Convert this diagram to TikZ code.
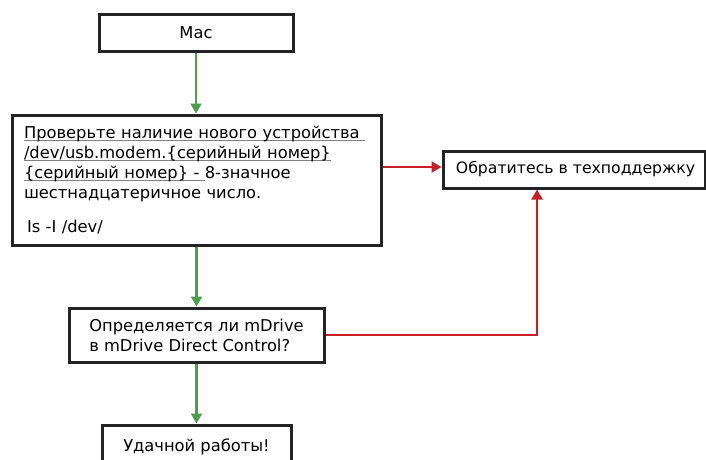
\documentclass[tikz,border=0pt]{standalone}
\usepackage{fontspec}
\setmainfont{DejaVu Sans}
\usetikzlibrary{arrows.meta}
\definecolor{gr}{RGB}{76,157,76}
\definecolor{rd}{RGB}{200,30,40}
\definecolor{bd}{RGB}{35,35,35}
\newsavebox\ulbox
\newcommand\ulx[1]{\leavevmode\sbox\ulbox{#1}\rlap{\color{gray}\rule[-2.5pt]{\wd\ulbox}{0.9pt}}\usebox\ulbox}
\begin{document}
\begin{tikzpicture}[x=1pt,y=-1pt,
  box/.style={draw=bd, line width=3pt, fill=white, inner sep=0pt, font=\fontsize{16.3}{20}\selectfont},
  gline/.style={draw=gr, line width=2.2pt, -{Triangle[length=10pt,width=11pt]}},
  rline/.style={draw=rd, line width=2.2pt, -{Triangle[length=10pt,width=11pt]}}]
\useasboundingbox (0,0) rectangle (706,459);
\clip (0,0) rectangle (706,459);
\node[box, minimum width=194pt, minimum height=37pt] (mac) at (196,32.5) {Mac};
\node[box, minimum width=369pt, minimum height=130pt, text width=345pt, align=left] (check) at (196.5,180) {%
\ulx{Проверьте наличие нового устройства }\\
\ulx{/dev/usb.modem.\{серийный номер\}}\\
\ulx{\{серийный номер\} - }8-значное\\
шестнадцатеричное число.\\[14pt]
\hspace*{3pt}Is -I /dev/};
\node[box, minimum width=262pt, minimum height=37pt, font=\fontsize{15.7}{20}\selectfont] (tech) at (574,169.5) {\hspace*{3pt}Обратитесь в техподдержку};
\node[box, minimum width=255pt, minimum height=54pt, align=left] (md) at (196.5,335) {Определяется ли mDrive\\в mDrive Direct Control?};
\node[box, minimum width=189pt, minimum height=44pt] (ok) at (196.5,447) {Удачной работы!};
\draw[gline] (mac.south) -- (mac.south |- check.north);
\draw[gline] (check.south) -- (check.south |- md.north);
\draw[gline] (md.south) -- (md.south |- ok.north);
\draw[rline] ([yshift=2.5pt]check.east |- tech.west) -- ([yshift=2.5pt]tech.west);
\draw[rline] (md.east) -| ([xshift=-37pt]tech.south);
\end{tikzpicture}
\end{document}
